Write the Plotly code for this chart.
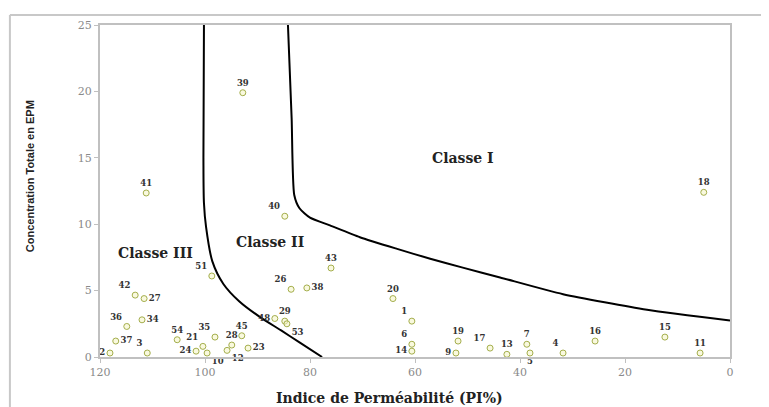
import plotly.graph_objects as go

# Sample points: label, PI (%), total concentration (epm), label position
labels = ["1", "2", "3", "4", "5", "6", "7", "9", "10", "11", "12", "13", "14", "15", "16",
          "17", "18", "19", "20", "21", "23", "24", "26", "27", "28", "29", "34", "35", "36",
          "37", "38", "39", "40", "41", "42", "43", "45", "48", "51", "53", "54"]
pi_values = [60.6, 118.1, 111.0, 31.8, 38.1, 60.6, 38.7, 52.2, 99.6, 5.7, 95.8, 42.5, 60.6, 12.4, 25.7,
             45.7, 5.0, 51.8, 64.2, 100.4, 91.8, 101.7, 83.6, 111.6, 94.9, 84.8, 112.0, 98.1, 114.9,
             117.0, 80.6, 92.8, 84.8, 111.2, 113.3, 76.0, 93.0, 86.7, 98.7, 84.4, 105.3]
conc_values = [2.7, 0.3, 0.3, 0.3, 0.3, 0.96, 0.96, 0.3, 0.3, 0.3, 0.5, 0.2, 0.44, 1.5, 1.2,
               0.67, 12.4, 1.2, 4.4, 0.8, 0.67, 0.44, 5.1, 4.4, 0.9, 2.7, 2.8, 1.5, 2.3,
               1.2, 5.2, 19.9, 10.6, 12.35, 4.66, 6.7, 1.6, 2.9, 6.1, 2.5, 1.3]
label_pos = ["top left", "middle left", "top left", "top left", "bottom center", "top left", "top center",
             "middle left", "bottom right", "top center", "bottom right", "top center", "middle left",
             "top center", "top center", "top left", "top center", "top center", "top center", "top left",
             "middle right", "middle left", "top left", "middle right", "top center", "top center",
             "middle right", "top left", "top left", "middle right", "middle right", "top center",
             "top left", "top center", "top left", "top center", "top center", "middle left", "top left",
             "bottom right", "top center"]

# Class boundary curves
curve_a_x = [100.2, 100.3, 100.2, 99.8, 98.6, 96.5, 93.5, 89.5, 85.5, 82.0, 77.7]
curve_a_y = [25.0, 15.0, 11.6, 9.8, 7.2, 5.5, 4.2, 3.0, 2.0, 1.1, 0.0]
curve_b_x = [84.2, 83.5, 83.0, 82.0, 80.0, 76.2, 70.5, 63.4, 57.1, 50.9, 43.8, 31.8, 15.8, 0.0]
curve_b_y = [25.0, 18.0, 12.2, 11.2, 10.5, 9.91, 9.02, 8.14, 7.40, 6.73, 5.99, 4.73, 3.55, 2.74]

class_names = ["Classe I", "Classe II", "Classe III"]
class_x = [50.9, 87.6, 109.5]
class_y = [15.0, 8.65, 7.84]

x_ticks = [0, 20, 40, 60, 80, 100, 120]
y_ticks = [0, 5, 10, 15, 20, 25]

fig = go.Figure()

fig.add_trace(go.Scatter(x=curve_a_x, y=curve_a_y, mode="lines",
                         line=dict(color="black", width=2, shape="spline", smoothing=0.8),
                         hoverinfo="skip", showlegend=False))
fig.add_trace(go.Scatter(x=curve_b_x, y=curve_b_y, mode="lines",
                         line=dict(color="black", width=2, shape="spline", smoothing=0.6),
                         hoverinfo="skip", showlegend=False))

fig.add_trace(go.Scatter(
    x=pi_values, y=conc_values, mode="markers+text", text=labels, textposition=label_pos,
    textfont=dict(family="DejaVu Serif", size=8.5, color="#333333", weight="bold"),
    marker=dict(symbol="circle", size=6, color="rgba(245,245,200,0.6)",
                line=dict(color="#a4ae4c", width=1)),
    showlegend=False, cliponaxis=False))

for name, cx, cy in zip(class_names, class_x, class_y):
    fig.add_annotation(x=cx, y=cy, text=name, showarrow=False,
                       font=dict(family="DejaVu Serif", size=14, color="#222222", weight="bold"))

# Y axis title
fig.add_annotation(xref="paper", yref="paper", x=-0.111, y=0.545, text="Concentration Totale en EPM",
                   textangle=-90, showarrow=False, xanchor="center", yanchor="middle",
                   font=dict(family="Liberation Sans Narrow, Liberation Sans", size=11,
                             color="#222222", weight="bold"))
# X axis title
fig.add_annotation(xref="paper", yref="paper", x=0.46, y=-0.093, text="Indice de Perméabilité (PI%)",
                   showarrow=False, xanchor="center", yanchor="top",
                   font=dict(family="DejaVu Serif", size=14, color="#222222", weight="bold"))

# Outer chart frame (partially visible)
fig.add_shape(type="line", xref="paper", yref="paper", x0=-0.143, x1=1.1, y0=1.03, y1=1.03,
              line=dict(color="#c8c8c8", width=2))
fig.add_shape(type="line", xref="paper", yref="paper", x0=-0.143, x1=-0.143, y0=1.03, y1=-0.16,
              line=dict(color="#c8c8c8", width=2))

fig.update_xaxes(range=[120, 0], tickvals=x_ticks, showgrid=False, zeroline=False,
                 showline=True, linecolor="#c0c0c0", linewidth=2, mirror=True,
                 ticks="outside", tickcolor="#c0c0c0", ticklen=4,
                 tickfont=dict(family="DejaVu Serif", size=11, color="#8a8a8a"))
fig.update_yaxes(range=[0, 25], tickvals=y_ticks, showgrid=False, zeroline=False,
                 showline=True, linecolor="#c0c0c0", linewidth=2, mirror=True,
                 ticks="outside", tickcolor="#c0c0c0", ticklen=4,
                 tickfont=dict(family="DejaVu Serif", size=11, color="#8a8a8a"))

fig.update_layout(width=761, height=399, margin=dict(l=92, r=39, t=11, b=50),
                  paper_bgcolor="white", plot_bgcolor="white")

fig.write_html("out.html")
